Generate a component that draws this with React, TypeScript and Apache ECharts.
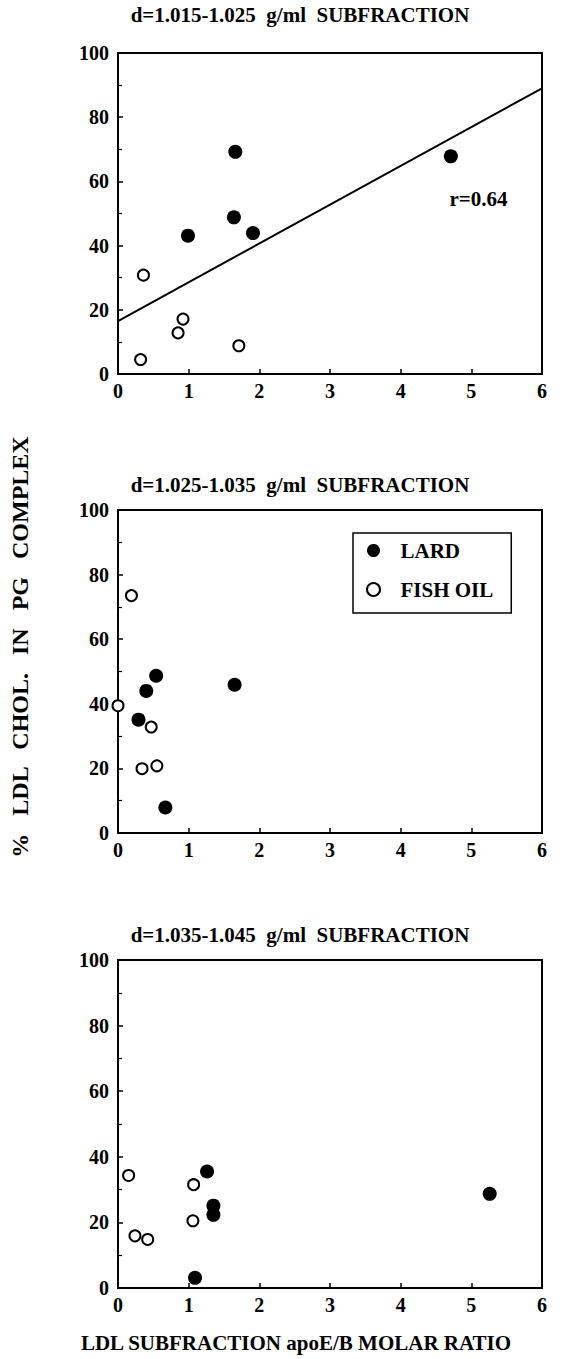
import React, { useEffect, useRef } from "react";
import * as echarts from "echarts";

// Panel titles
const panelTitles = [
  "d=1.015-1.025  g/ml  SUBFRACTION",
  "d=1.025-1.035  g/ml  SUBFRACTION",
  "d=1.035-1.045  g/ml  SUBFRACTION",
];

// Panel 1 (d=1.015-1.025)
const lard1: number[][] = [
  [1.66, 69.2],
  [4.71, 67.8],
  [1.64, 48.8],
  [0.99, 43.1],
  [1.91, 43.9],
];
const fish1: number[][] = [
  [0.36, 30.8],
  [0.92, 17.1],
  [0.85, 12.8],
  [0.32, 4.5],
  [1.71, 8.8],
];
const regression1: number[][] = [
  [0, 16.5],
  [6, 89],
];
const rLabel = "r=0.64";
const rLabelPos: number[][] = [[5.1, 54.5]];

// Panel 2 (d=1.025-1.035)
const lard2: number[][] = [
  [0.54, 48.7],
  [0.4, 44.0],
  [1.65, 45.9],
  [0.29, 35.1],
  [0.67, 7.9],
];
const fish2: number[][] = [
  [0.19, 73.5],
  [0.0, 39.4],
  [0.47, 32.8],
  [0.34, 19.9],
  [0.55, 20.8],
];

// Panel 3 (d=1.035-1.045)
const lard3: number[][] = [
  [1.26, 35.5],
  [1.35, 25.1],
  [1.35, 22.3],
  [5.26, 28.7],
  [1.09, 3.1],
];
const fish3: number[][] = [
  [0.15, 34.3],
  [0.24, 15.9],
  [0.42, 14.8],
  [1.07, 31.5],
  [1.06, 20.5],
];

const xTicks = [0, 1, 2, 3, 4, 5, 6];
const yTicks = [0, 20, 40, 60, 80, 100];
const seriesNames = ["LARD", "FISH OIL"];
const xAxisTitle = "LDL SUBFRACTION apoE/B MOLAR RATIO";
const yAxisTitle = "%   LDL   CHOL.   IN   PG   COMPLEX";

const FONT = "'Liberation Serif', 'Times New Roman', serif";

export default function App() {
  const ref = useRef<HTMLDivElement>(null);

  useEffect(() => {
    if (!ref.current) return;
    const chart = echarts.init(ref.current, undefined, { renderer: "svg" });

    const gridTops = [53, 510, 960];
    const gridHeights = [321, 323, 328];
    const grids = gridTops.map((t, i) => ({
      left: 118,
      width: 424,
      top: t,
      height: gridHeights[i],
      show: true,
      borderColor: "#000",
      borderWidth: 2,
      backgroundColor: "transparent",
    }));

    const xAxes = [0, 1, 2].map((i) => ({
      gridIndex: i,
      type: "value",
      min: xTicks[0],
      max: xTicks[xTicks.length - 1],
      interval: 1,
      axisLine: { show: true, onZero: false, lineStyle: { color: "#000", width: 2 } },
      axisTick: { show: true, inside: true, length: 5, lineStyle: { color: "#000", width: 1.5 } },
      axisLabel: {
        color: "#000",
        fontFamily: FONT,
        fontWeight: "bold",
        fontSize: 20,
        margin: 7,
      },
      splitLine: { show: false },
    }));

    const yAxes = [0, 1, 2].map((i) => ({
      gridIndex: i,
      type: "value",
      min: yTicks[0],
      max: yTicks[yTicks.length - 1],
      interval: 20,
      axisLine: { show: true, onZero: false, lineStyle: { color: "#000", width: 2 } },
      axisTick: { show: true, inside: true, length: 5, lineStyle: { color: "#000", width: 1.5 } },
      minorTick: { show: true, splitNumber: 2, length: 4, lineStyle: { color: "#000", width: 1.2 } },
      axisLabel: {
        color: "#000",
        fontFamily: FONT,
        fontWeight: "bold",
        fontSize: 20,
        margin: 9,
      },
      splitLine: { show: false },
      minorSplitLine: { show: false },
    }));

    const lardStyle = { color: "#000", opacity: 1 };
    const fishStyle = { color: "#fff", borderColor: "#000", borderWidth: 2, opacity: 1 };

    const panels = [
      [lard1, fish1],
      [lard2, fish2],
      [lard3, fish3],
    ];

    const series: any[] = [];
    panels.forEach(([lard, fish], i) => {
      series.push({
        name: seriesNames[0],
        type: "scatter",
        xAxisIndex: i,
        yAxisIndex: i,
        symbol: "circle",
        symbolSize: 14,
        itemStyle: lardStyle,
        data: lard,
        z: 3,
      });
      series.push({
        name: seriesNames[1],
        type: "scatter",
        xAxisIndex: i,
        yAxisIndex: i,
        symbol: "circle",
        symbolSize: 11,
        itemStyle: fishStyle,
        data: fish,
        z: 3,
      });
    });

    series.push({
      name: "regression",
      type: "line",
      xAxisIndex: 0,
      yAxisIndex: 0,
      data: regression1,
      symbol: "none",
      lineStyle: { color: "#000", width: 2 },
      z: 2,
    });
    series.push({
      name: "rlabel",
      type: "scatter",
      xAxisIndex: 0,
      yAxisIndex: 0,
      symbolSize: 0,
      itemStyle: { opacity: 1, color: "#000" },
      data: rLabelPos,
      label: {
        show: true,
        position: "inside",
        formatter: rLabel,
        color: "#000",
        opacity: 1,
        fontFamily: FONT,
        fontWeight: "bold",
        fontSize: 21,
      },
      z: 4,
    });

    const titleStyle = {
      fill: "#000",
      fontFamily: FONT,
      fontWeight: "bold",
      fontSize: 21,
      textAlign: "center",
      textVerticalAlign: "middle",
    };

    const titleYs = [15, 485, 935];

    chart.setOption({
      animation: false,
      backgroundColor: "#fff",
      grid: grids,
      xAxis: xAxes,
      yAxis: yAxes,
      legend: {
        show: true,
        data: [
          { name: seriesNames[0], icon: "circle" },
          { name: seriesNames[1], icon: "circle" },
        ],
        orient: "vertical",
        left: 353,
        top: 533,
        padding: [7, 18, 13, 13],
        itemWidth: 44,
        itemHeight: 13,
        itemGap: 18,
        borderColor: "#000",
        borderWidth: 1.5,
        textStyle: {
          color: "#000",
          fontFamily: FONT,
          fontWeight: "bold",
          fontSize: 21,
        },
      },
      graphic: [
        ...panelTitles.map((t, i) => ({
          type: "text",
          x: 300,
          y: titleYs[i],
          style: { ...titleStyle, text: t },
        })),
        {
          type: "text",
          x: 296,
          y: 1343,
          style: { ...titleStyle, fontSize: 21, text: xAxisTitle },
        },
        {
          type: "text",
          x: 20,
          y: 647,
          rotation: Math.PI / 2,
          style: { ...titleStyle, fontSize: 24, text: yAxisTitle },
        },
      ],
      series,
    });

    return () => chart.dispose();
  }, []);

  return (
    <div
      ref={ref}
      style={{ position: "absolute", left: 0, top: 0, width: 572, height: 1359 }}
    />
  );
}
